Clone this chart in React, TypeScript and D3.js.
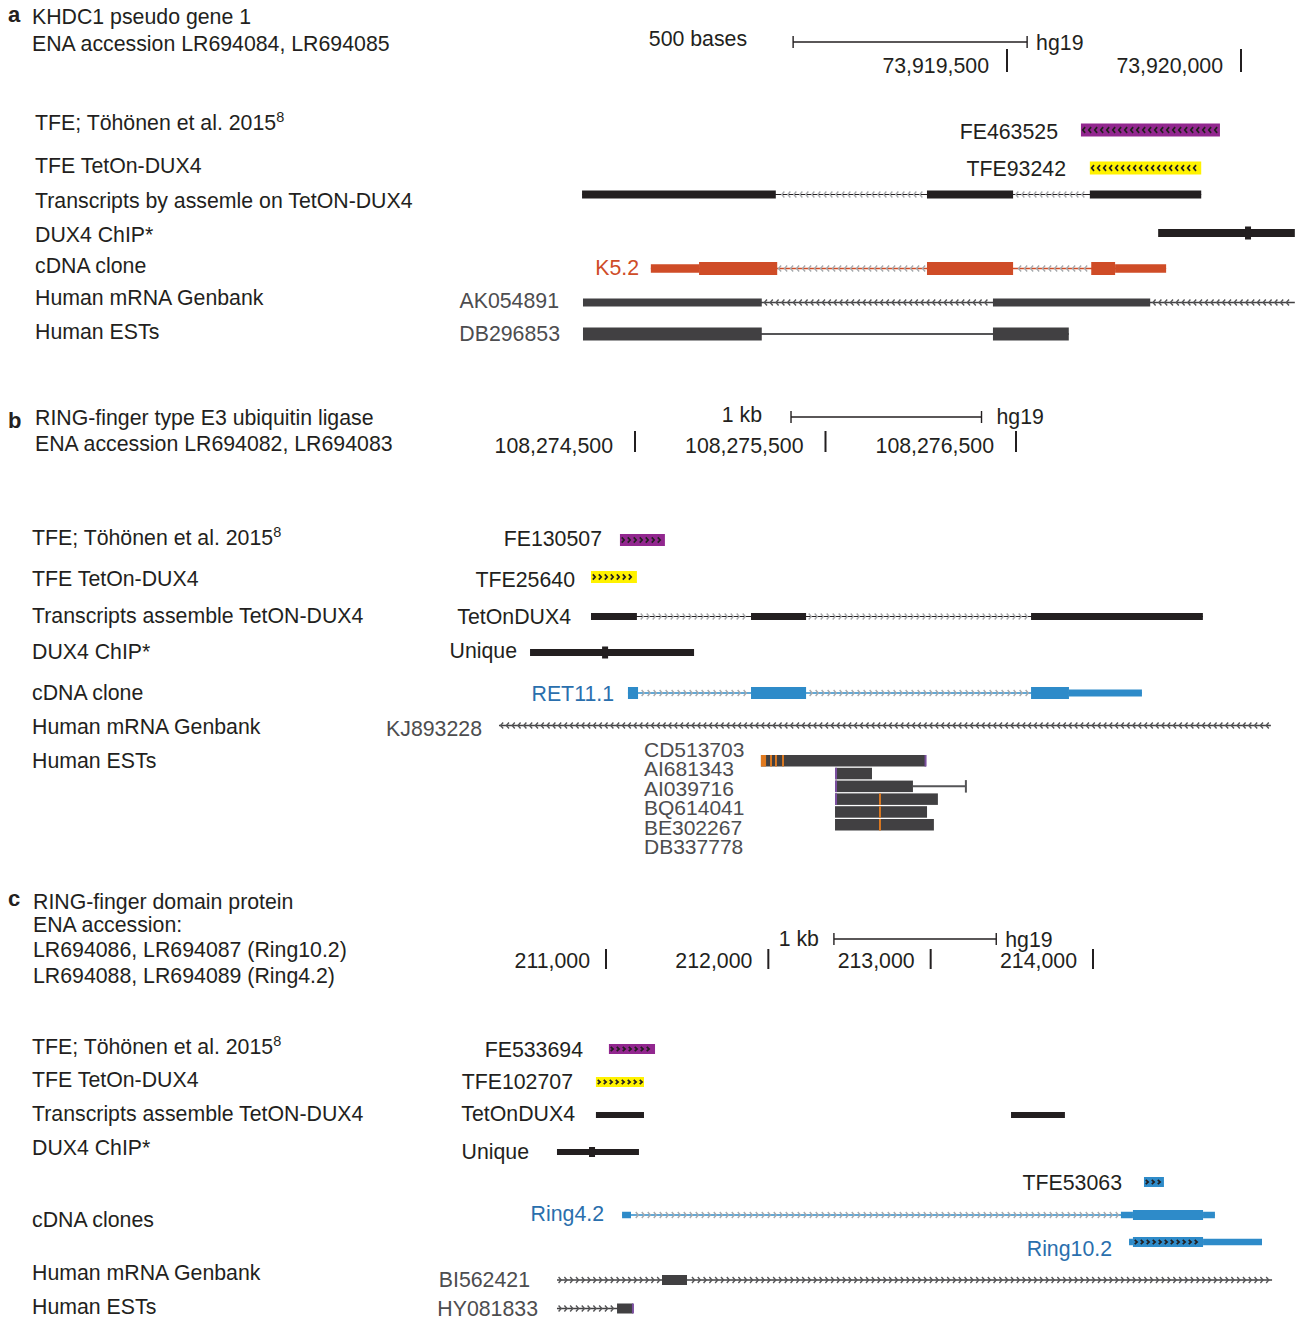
import React from 'react';
import * as d3 from 'd3';

type Span = [number, number];

const FONT = "'Liberation Sans', Arial, Helvetica, sans-serif";
const INK = '#231f20';
const GREYTXT = '#4d4d4f';
const PURPLE = '#92278f';
const YELLOW = '#fff200';
const ORANGE = '#cf4c27';
const BLUE = '#2e8bc9';
const BLUETXT = '#2a6fad';
const DARK = '#414042';
const CHEV = '#a7a9ac';
const EST_MIS = '#e07a1f';
const EST_INS = '#7b4fa0';

// ---------------- Panel a ----------------
const aTitle = ['KHDC1 pseudo gene 1', 'ENA accession LR694084, LR694085'];
const aTracks = ['TFE; Töhönen et al. 2015^8', 'TFE TetOn-DUX4', 'Transcripts by assemle on TetON-DUX4', 'DUX4 ChIP*', 'cDNA clone', 'Human mRNA Genbank', 'Human ESTs'];
const aTicks = [73919500, 73920000];
const aScaleBar: Span = [73919043, 73919543];
const aTfe: Span = [73919658, 73919955];
const aTfeTet: Span = [73919677, 73919915];
const aAssembly: Span[] = [[73918592, 73919006], [73919329, 73919513], [73919677, 73919915]];
const aChip: Span = [73919823, 73920115];
const aChipPeak = 73920015;
const aCdnaExons: Span[] = [[73918842, 73919009], [73919329, 73919513], [73919680, 73919731]];
const aCdnaUtrs: Span[] = [[73918739, 73918842], [73919731, 73919840]];
const aMrnaExons: Span[] = [[73918594, 73918976], [73919470, 73919806]];
const aMrnaSpan: Span = [73918594, 73920115];
const aEstExons: Span[] = [[73918594, 73918976], [73919470, 73919632]];
const aNames = { tfe: 'FE463525', tfeTet: 'TFE93242', cdna: 'K5.2', mrna: 'AK054891', est: 'DB296853' };

// ---------------- Panel b ----------------
const bTitle = ['RING-finger type E3 ubiquitin ligase', 'ENA accession LR694082, LR694083'];
const bTracks = ['TFE; Töhönen et al. 2015^8', 'TFE TetOn-DUX4', 'Transcripts assemble TetON-DUX4', 'DUX4 ChIP*', 'cDNA clone', 'Human mRNA Genbank', 'Human ESTs'];
const bTicks = [108274500, 108275500, 108276500];
const bScaleBar: Span = [108275319, 108276319];
const bTfe: Span = [108274421, 108274657];
const bTfeTet: Span = [108274269, 108274510];
const bAssembly: Span[] = [[108274269, 108274510], [108275109, 108275398], [108276579, 108277481]];
const bChip: Span = [108273949, 108274810];
const bChipPeak = 108274343;
const bCdnaExons: Span[] = [[108274463, 108274516], [108275109, 108275398], [108276579, 108276778]];
const bCdnaUtrs: Span[] = [[108276778, 108277161]];
const bMrnaSpan: Span = [108273786, 108277838];
const bEstNames = ['CD513703', 'AI681343', 'AI039716', 'BQ614041', 'BE302267', 'DB337778'];
const bEstBlocks: Span[] = [[108275161, 108276027], [108275550, 108275744], [108275550, 108275959], [108275550, 108276090], [108275550, 108276033], [108275550, 108276069]];
const bEstTail: Span = [108275959, 108276237];
const bEstMismatch: [number, number, number][] = [
  [0, 108275161, 108275188], [0, 108275209, 108275219], [0, 108275235, 108275245], [0, 108275272, 108275282],
  [3, 108275781, 108275791], [4, 108275781, 108275791], [5, 108275781, 108275791],
];
const bEstInsert: [number, number][] = [[0, 108276020], [1, 108275550], [2, 108275550], [3, 108275550]];
const bNames = { tfe: 'FE130507', tfeTet: 'TFE25640', asm: 'TetOnDUX4', chip: 'Unique', cdna: 'RET11.1', mrna: 'KJ893228' };

// ---------------- Panel c ----------------
const cTitle = ['RING-finger domain protein', 'ENA accession:', 'LR694086, LR694087 (Ring10.2)', 'LR694088, LR694089 (Ring4.2)'];
const cTracks = ['TFE; Töhönen et al. 2015^8', 'TFE TetOn-DUX4', 'Transcripts assemble TetON-DUX4', 'DUX4 ChIP*', 'cDNA clones', 'Human mRNA Genbank', 'Human ESTs'];
const cTicks = [211000, 212000, 213000, 214000];
const cScaleBar: Span = [212404, 213404];
const cTfe: Span = [211018, 211302];
const cTfeTet: Span = [210938, 211234];
const cAssembly: Span[] = [[210938, 211234], [213495, 213827]];
const cChip: Span = [210698, 211203];
const cChipPeak = 210914;
const cTfe2: Span = [214314, 214437];
const cRing42Exons: Span[] = [[214246, 214678]];
const cRing42Utrs: Span[] = [[211099, 211154], [214172, 214246], [214678, 214751]];
const cRing102Exons: Span[] = [[214246, 214678]];
const cRing102Utrs: Span[] = [[214222, 214246], [214678, 215041]];
const cMrnaExons: Span[] = [[211345, 211499]];
const cMrnaSpan: Span = [210698, 215103];
const cEstExons: Span[] = [[211068, 211166]];
const cEstSpan: Span = [210698, 211166];
const cEstInsert = 211166;
const cNames = { tfe: 'FE533694', tfeTet: 'TFE102707', asm: 'TetOnDUX4', chip: 'Unique', tfe2: 'TFE53063', ring42: 'Ring4.2', ring102: 'Ring10.2', mrna: 'BI562421', est: 'HY081833' };

// ---------------- helpers ----------------
const SIZE = 21.3;

function Label({ x, y, text, anchor = 'start', fill = INK, bold = false, size = SIZE }: any) {
  const parts = String(text).split('^');
  return (
    <text x={x} y={y} textAnchor={anchor} fill={fill} fontSize={size} fontWeight={bold ? 'bold' : 'normal'} fontFamily={FONT}>
      {parts[0]}
      {parts[1] && <tspan dy={-8} fontSize={size * 0.68}>{parts[1]}</tspan>}
    </text>
  );
}

function Chevrons({ x0, x1, y, dir, color, step = 6, h = 3, w = 2.6, sw = 1.4, skip = [] }: any) {
  const pts = d3.range(x0 + step / 2, x1 - step / 4, step).filter(
    (p: number) => !skip.some(([a, b]: number[]) => p > a - 2 && p < b + 2)
  );
  const d = pts
    .map((p: number) =>
      dir < 0
        ? `M${p + w / 2},${y - h}L${p - w / 2},${y}L${p + w / 2},${y + h}`
        : `M${p - w / 2},${y - h}L${p + w / 2},${y}L${p - w / 2},${y + h}`
    )
    .join('');
  return <path d={d} fill="none" stroke={color} strokeWidth={sw} />;
}

function Gene({ sx, y, exons = [], utrs = [], span, exonH, utrH, fill, line, lineW = 1.4, chev = CHEV, dir = 1, arrows = true, noLine = false, boxChev = false, step = 6 }: any) {
  const all: Span[] = [...exons, ...utrs];
  const lo = span ? span[0] : (d3.min(all, (d) => d[0]) as number);
  const hi = span ? span[1] : (d3.max(all, (d) => d[1]) as number);
  const skip = all.map((b) => [sx(b[0]), sx(b[1])]);
  const uh = utrH ?? exonH;
  return (
    <g>
      {!noLine && <line x1={sx(lo)} x2={sx(hi)} y1={y} y2={y} stroke={line ?? fill} strokeWidth={lineW} />}
      {!noLine && arrows && <Chevrons x0={sx(lo)} x1={sx(hi)} y={y} dir={dir} color={chev} skip={skip} step={step} />}
      {utrs.map((b: Span, i: number) => (
        <rect key={'u' + i} x={sx(b[0])} y={y - uh / 2} width={sx(b[1]) - sx(b[0])} height={uh} fill={fill} />
      ))}
      {exons.map((b: Span, i: number) => (
        <rect key={'e' + i} x={sx(b[0])} y={y - exonH / 2} width={sx(b[1]) - sx(b[0])} height={exonH} fill={fill} />
      ))}
      {boxChev &&
        exons.map((b: Span, i: number) => (
          <Chevrons key={'c' + i} x0={sx(b[0])} x1={sx(b[1])} y={y} dir={dir} color={INK} h={exonH * 0.22} w={2.4} sw={1.7} />
        ))}
    </g>
  );
}

function Chip({ sx, y, span, peak, h, ph }: any) {
  return (
    <g>
      <rect x={sx(span[0])} y={y - h / 2} width={sx(span[1]) - sx(span[0])} height={h} fill={INK} />
      <rect x={sx(peak) - 3} y={y - ph / 2} width={6} height={ph} fill={INK} />
    </g>
  );
}

function Ruler({ sx, ticks, tickTop, tickBottom, labelY, labelGap, bar, barY, barText, barTextGap, hgGap, barTextY, hgY }: any) {
  const fmt = d3.format(',');
  return (
    <g>
      {ticks.map((t: number) => (
        <g key={t}>
          <line x1={sx(t)} x2={sx(t)} y1={tickTop} y2={tickBottom} stroke={INK} strokeWidth={2} />
          <Label x={sx(t) - labelGap} y={labelY} text={fmt(t)} anchor="end" />
        </g>
      ))}
      <line x1={sx(bar[0])} x2={sx(bar[1])} y1={barY} y2={barY} stroke={INK} strokeWidth={1.4} />
      <line x1={sx(bar[0])} x2={sx(bar[0])} y1={barY - 6} y2={barY + 6} stroke={INK} strokeWidth={1.4} />
      <line x1={sx(bar[1])} x2={sx(bar[1])} y1={barY - 6} y2={barY + 6} stroke={INK} strokeWidth={1.4} />
      <Label x={sx(bar[0]) - barTextGap} y={barTextY} text={barText} anchor="end" />
      <Label x={sx(bar[1]) + hgGap} y={hgY} text="hg19" />
    </g>
  );
}

// ---------------- App ----------------
export default function App() {
  const xa = d3.scaleLinear().domain(aTicks).range([1007, 1241]);
  const xb = d3.scaleLinear().domain([bTicks[0], bTicks[2]]).range([635, 1016]);
  const xc = d3.scaleLinear().domain([cTicks[0], cTicks[3]]).range([606, 1093]);

  const aRowY = [130, 173, 208, 242, 273, 305, 339];
  const bRowY = [545, 586, 623, 659, 700, 734, 768];
  const cRowY = [1054, 1087, 1121, 1155, 1227, 1280, 1314];

  const estTop = 755;
  const estStep = 12.8;
  const estH = 11.5;

  return (
    <svg width={1295} height={1320} style={{ position: 'absolute', left: 0, top: 0, background: '#fff' }} fontFamily={FONT}>
      <rect width={1295} height={1320} fill="#fff" />

      {/* ===== Panel a ===== */}
      <Label x={8} y={22} text="a" bold size={22} />
      <Label x={32} y={24} text={aTitle[0]} />
      <Label x={32} y={51} text={aTitle[1]} />
      <Ruler sx={xa} ticks={aTicks} tickTop={49} tickBottom={72} labelY={73} labelGap={18} bar={aScaleBar} barY={42} barText="500 bases" barTextGap={46} hgGap={9} barTextY={46} hgY={50} />
      {aTracks.map((t, i) => <Label key={t + i} x={35} y={aRowY[i]} text={t} />)}

      <Label x={1058} y={139} text={aNames.tfe} anchor="end" />
      <Gene sx={xa} y={130} exons={[aTfe]} exonH={13} fill={PURPLE} dir={-1} boxChev noLine />
      <Label x={1066} y={176} text={aNames.tfeTet} anchor="end" />
      <Gene sx={xa} y={168} exons={[aTfeTet]} exonH={13} fill={YELLOW} dir={-1} boxChev noLine />
      <Gene sx={xa} y={194.5} exons={aAssembly} exonH={8} fill={INK} line={INK} lineW={1.2} dir={-1} />
      <Chip sx={xa} y={233} span={aChip} peak={aChipPeak} h={8} ph={13} />
      <Label x={639} y={275} text={aNames.cdna} anchor="end" fill={ORANGE} />
      <Gene sx={xa} y={268.5} exons={aCdnaExons} utrs={aCdnaUtrs} exonH={13} utrH={8.5} fill={ORANGE} lineW={1.4} dir={-1} />
      <Label x={559} y={308} text={aNames.mrna} anchor="end" fill={GREYTXT} />
      <Gene sx={xa} y={302.5} exons={aMrnaExons} span={aMrnaSpan} exonH={8} fill={DARK} line={DARK} chev="#555557" dir={-1} step={5.8} />
      <Label x={560} y={341} text={aNames.est} anchor="end" fill={GREYTXT} />
      <Gene sx={xa} y={334} exons={aEstExons} exonH={13} fill={DARK} line="#555557" lineW={1.8} arrows={false} />

      {/* ===== Panel b ===== */}
      <Label x={8} y={428} text="b" bold size={22} />
      <Label x={35} y={425} text={bTitle[0]} />
      <Label x={35} y={451} text={bTitle[1]} />
      <Ruler sx={xb} ticks={bTicks} tickTop={431} tickBottom={452} labelY={453} labelGap={22} bar={bScaleBar} barY={417} barText="1 kb" barTextGap={29} hgGap={15} barTextY={422} hgY={424} />
      {bTracks.map((t, i) => <Label key={t + i} x={32} y={bRowY[i]} text={t} />)}

      <Label x={602} y={546} text={bNames.tfe} anchor="end" />
      <Gene sx={xb} y={540} exons={[bTfe]} exonH={12} fill={PURPLE} dir={1} boxChev noLine />
      <Label x={575} y={587} text={bNames.tfeTet} anchor="end" />
      <Gene sx={xb} y={577} exons={[bTfeTet]} exonH={12} fill={YELLOW} dir={1} boxChev noLine />
      <Label x={571} y={624} text={bNames.asm} anchor="end" />
      <Gene sx={xb} y={616.5} exons={bAssembly} exonH={7} fill={INK} line={INK} lineW={1.2} dir={1} />
      <Label x={517} y={658} text={bNames.chip} anchor="end" />
      <Chip sx={xb} y={652.5} span={bChip} peak={bChipPeak} h={7} ph={12} />
      <Label x={614} y={701} text={bNames.cdna} anchor="end" fill={BLUETXT} />
      <Gene sx={xb} y={693} exons={bCdnaExons} utrs={bCdnaUtrs} exonH={12} utrH={7} fill={BLUE} lineW={1.4} dir={1} />
      <Label x={482} y={736} text={bNames.mrna} anchor="end" fill={GREYTXT} />
      <Gene sx={xb} y={725.5} span={bMrnaSpan} exonH={8} fill={DARK} line={DARK} chev="#555557" dir={-1} step={5.8} />

      {bEstNames.map((n, i) => (
        <Label key={n} x={644} y={757 + i * 19.4} text={n} fill={GREYTXT} size={21} />
      ))}
      {bEstBlocks.map((b, i) => (
        <rect key={'est' + i} x={xb(b[0])} y={estTop + i * estStep} width={xb(b[1]) - xb(b[0])} height={estH} fill={DARK} />
      ))}
      <line x1={xb(bEstTail[0])} x2={xb(bEstTail[1])} y1={estTop + 2 * estStep + estH / 2} y2={estTop + 2 * estStep + estH / 2} stroke="#555557" strokeWidth={2} />
      <line x1={xb(bEstTail[1])} x2={xb(bEstTail[1])} y1={estTop + 2 * estStep - 0.5} y2={estTop + 2 * estStep + estH + 0.5} stroke="#555557" strokeWidth={2} />
      {bEstMismatch.map(([r, s, e], i) => (
        <rect key={'mm' + i} x={xb(s)} y={estTop + r * estStep} width={Math.max(1.8, xb(e) - xb(s))} height={estH} fill={EST_MIS} />
      ))}
      {bEstInsert.map(([r, p], i) => (
        <rect key={'ins' + i} x={xb(p)} y={estTop + r * estStep} width={2} height={estH} fill={EST_INS} />
      ))}

      {/* ===== Panel c ===== */}
      <Label x={8} y={906} text="c" bold size={22} />
      <Label x={33} y={909} text={cTitle[0]} />
      <Label x={33} y={932} text={cTitle[1]} />
      <Label x={33} y={957} text={cTitle[2]} />
      <Label x={33} y={983} text={cTitle[3]} />
      <Ruler sx={xc} ticks={cTicks} tickTop={949} tickBottom={969} labelY={968} labelGap={16} bar={cScaleBar} barY={939} barText="1 kb" barTextGap={15} hgGap={9} barTextY={946} hgY={947} />
      {cTracks.map((t, i) => <Label key={t + i} x={32} y={cRowY[i]} text={t} />)}

      <Label x={583} y={1057} text={cNames.tfe} anchor="end" />
      <Gene sx={xc} y={1049} exons={[cTfe]} exonH={10} fill={PURPLE} dir={1} boxChev noLine />
      <Label x={573} y={1089} text={cNames.tfeTet} anchor="end" />
      <Gene sx={xc} y={1082} exons={[cTfeTet]} exonH={10} fill={YELLOW} dir={1} boxChev noLine />
      <Label x={575} y={1121} text={cNames.asm} anchor="end" />
      <Gene sx={xc} y={1115} exons={cAssembly} exonH={6} fill={INK} noLine />
      <Label x={529} y={1159} text={cNames.chip} anchor="end" />
      <Chip sx={xc} y={1152} span={cChip} peak={cChipPeak} h={6} ph={10} />
      <Label x={1122} y={1190} text={cNames.tfe2} anchor="end" />
      <Gene sx={xc} y={1182} exons={[cTfe2]} exonH={10} fill={BLUE} dir={1} boxChev noLine />
      <Label x={604} y={1221} text={cNames.ring42} anchor="end" fill={BLUETXT} />
      <Gene sx={xc} y={1215} exons={cRing42Exons} utrs={cRing42Utrs} exonH={10} utrH={6.5} fill={BLUE} lineW={1.4} dir={1} />
      <Label x={1112} y={1256} text={cNames.ring102} anchor="end" fill={BLUETXT} />
      <Gene sx={xc} y={1242} exons={cRing102Exons} utrs={cRing102Utrs} exonH={10} utrH={6.5} fill={BLUE} dir={1} boxChev arrows={false} />
      <Label x={530} y={1287} text={cNames.mrna} anchor="end" fill={GREYTXT} />
      <Gene sx={xc} y={1280} exons={cMrnaExons} span={cMrnaSpan} exonH={10} fill={DARK} line={DARK} chev="#555557" dir={1} step={5.8} />
      <Label x={538} y={1316} text={cNames.est} anchor="end" fill={GREYTXT} />
      <Gene sx={xc} y={1308.5} exons={cEstExons} span={cEstSpan} exonH={10} fill={DARK} line={DARK} chev="#555557" dir={1} step={5.8} />
      <rect x={xc(cEstInsert) - 1} y={1303.5} width={2} height={10} fill={EST_INS} />
    </svg>
  );
}
